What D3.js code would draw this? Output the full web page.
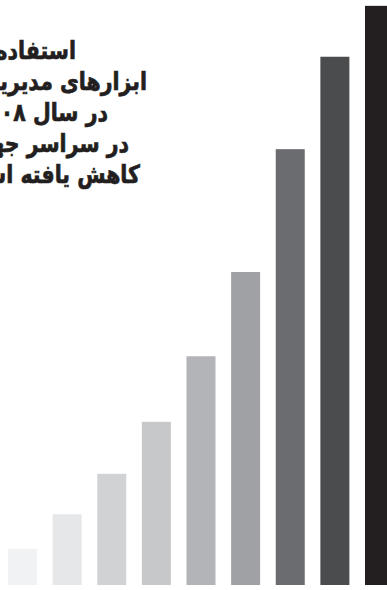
<!DOCTYPE html>
<html>
<head>
<meta charset="utf-8">
<script src="https://cdn.jsdelivr.net/npm/d3@7"></script>
<style>
  body { margin: 0; background: #fff; }
  svg { display: block; }
  .caption { font-family: "DejaVu Sans", sans-serif; font-weight: bold; fill: #231f20; stroke: #231f20; stroke-width: 0.7px; }
</style>
</head>
<body>
<svg width="387" height="590"></svg>
<script>
// Chart data
var categories = ['1', '2', '3', '4', '5', '6', '7', '8', '9'];
var values = [6.2, 12.1, 19.0, 27.9, 39.1, 53.5, 74.5, 90.3, 99.0];
var barColors = ['#f1f2f3', '#e6e7e8', '#d1d2d4', '#c7c8ca', '#b3b4b7',
                 '#a0a1a5', '#6b6c70', '#4b4c4e', '#231f20'];
var captionLines = ['استفاده از', 'ابزارهای مدیریت', 'در سال ۲۰۰۸', 'در سراسر جهان', 'کاهش یافته است'];
var captionRight = [76, 147, 108, 129, 140];

var svg = d3.select('svg');

var baseY = 585;

var xScale = d3.scaleBand()
    .domain(categories)
    .range([8, 394])
    .paddingInner(0.35)
    .paddingOuter(0);

var yScale = d3.scaleLinear()
    .domain([0, 100])
    .range([baseY, 0]);

// Caption text, condensed a little to match the heavy narrow face
svg.append('g')
    .selectAll('text')
    .data(captionLines)
    .enter()
    .append('text')
    .attr('class', 'caption')
    .attr('direction', 'rtl')
    .attr('text-anchor', 'start')
    .attr('transform', function(d, i) {
        return 'translate(' + [captionRight[i], 59 + i * 31] + ') scale(0.82,1)';
    })
    .style('font-size', '25px')
    .text(function(d) { return d; });

// Bars
svg.append('g')
    .selectAll('rect')
    .data(values)
    .enter()
    .append('rect')
    .attr('x', function(d, i) { return xScale(categories[i]); })
    .attr('y', function(d) { return yScale(d); })
    .attr('width', xScale.bandwidth())
    .attr('height', function(d) { return baseY - yScale(d); })
    .attr('fill', function(d, i) { return barColors[i]; });
</script>
</body>
</html>
